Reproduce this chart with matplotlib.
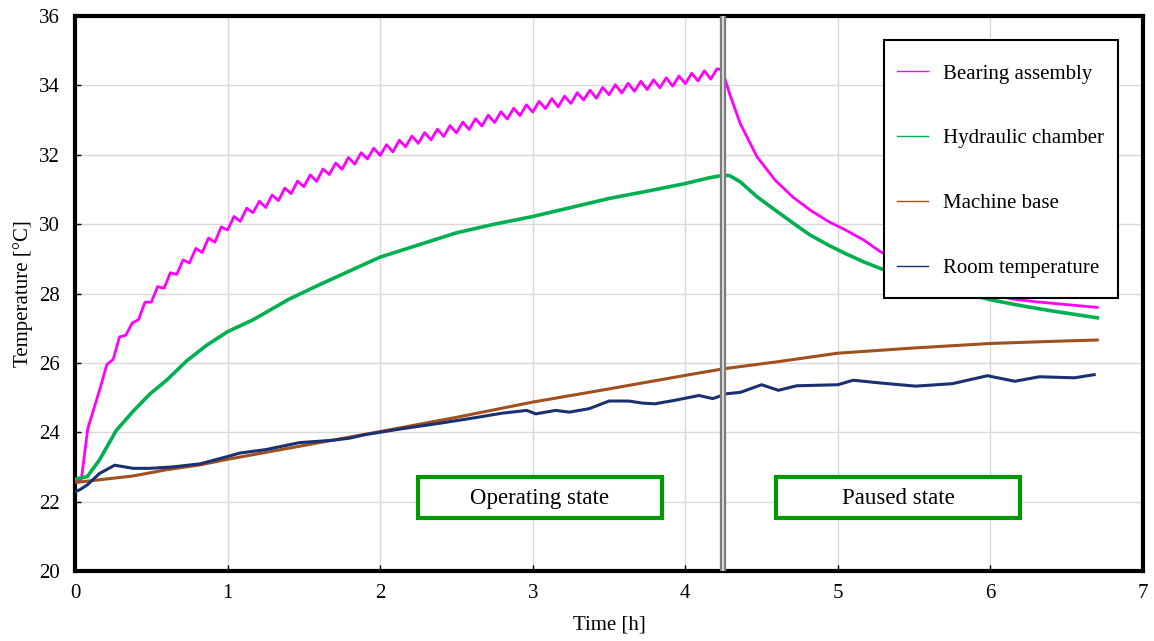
import numpy as np
import matplotlib
matplotlib.use("Agg")
import matplotlib.pyplot as plt
from matplotlib.patches import Rectangle

plt.rcParams['font.family'] = ['Liberation Serif', 'DejaVu Serif']

# bearing assembly while running: samples every 2.5 min (1/24 h), ripple included
bearing_run_v = [22.55, 22.65, 24.1, 24.7, 25.3, 25.95, 26.1, 26.75, 26.8, 27.15,
                 27.25, 27.75, 27.75, 28.2, 28.15, 28.6, 28.55, 28.97, 28.88, 29.3,
                 29.18, 29.6, 29.48, 29.92, 29.83, 30.22, 30.08, 30.46, 30.33, 30.66,
                 30.48, 30.84, 30.68, 31.04, 30.88, 31.24, 31.08, 31.42, 31.23, 31.59,
                 31.43, 31.76, 31.58, 31.92, 31.73, 32.06, 31.88, 32.19, 31.98, 32.29,
                 32.08, 32.42, 32.23, 32.54, 32.33, 32.64, 32.43, 32.74, 32.53, 32.84,
                 32.63, 32.94, 32.73, 33.04, 32.83, 33.14, 32.93, 33.24, 33.03, 33.34,
                 33.13, 33.44, 33.23, 33.54, 33.33, 33.62, 33.38, 33.69, 33.48, 33.79,
                 33.58, 33.86, 33.63, 33.94, 33.73, 34.02, 33.78, 34.06, 33.83, 34.12,
                 33.88, 34.16, 33.93, 34.22, 33.98, 34.27, 34.05, 34.35, 34.13, 34.42,
                 34.18, 34.48]
bearing_run_t = np.arange(len(bearing_run_v)) / 24.0

# bearing assembly after the machine stopped
bearing_stop_t = [4.24, 4.27, 4.29, 4.36, 4.47, 4.59, 4.705, 4.82, 4.94, 5.05,
                  5.17, 5.28, 5.5, 5.75, 6.0, 6.13, 6.3, 6.5, 6.7]
bearing_stop_v = [34.45, 34.05, 33.76, 32.9, 31.94, 31.26, 30.78, 30.4, 30.07, 29.83,
                  29.54, 29.2, 28.8, 28.35, 28.0, 27.85, 27.76, 27.68, 27.6]

hydraulic_t = [0.0, 0.08, 0.16, 0.27, 0.38, 0.49, 0.6, 0.73, 0.86, 1.0,
               1.17, 1.4, 1.6, 1.8, 2.0, 2.25, 2.5, 2.75, 3.0, 3.25,
               3.5, 3.75, 4.0, 4.15, 4.25, 4.29, 4.36, 4.47, 4.59, 4.71,
               4.82, 4.94, 5.05, 5.17, 5.28, 5.5, 5.75, 6.0, 6.2, 6.4,
               6.55, 6.7]
hydraulic_v = [22.65, 22.72, 23.2, 24.05, 24.6, 25.1, 25.5, 26.05, 26.5, 26.9,
               27.25, 27.83, 28.25, 28.65, 29.05, 29.4, 29.75, 30.0, 30.22, 30.48,
               30.74, 30.95, 31.17, 31.33, 31.41, 31.4, 31.22, 30.79, 30.4, 30.02,
               29.68, 29.39, 29.15, 28.91, 28.72, 28.4, 28.1, 27.82, 27.65, 27.5,
               27.4, 27.3]

base_t = [0.0, 0.16, 0.38, 0.6, 0.82, 1.0, 1.25, 1.5, 1.75, 2.0,
          2.5, 3.0, 3.5, 4.0, 4.25, 4.6, 5.0, 5.5, 6.0, 6.4, 6.7]
base_v = [22.55, 22.63, 22.74, 22.92, 23.06, 23.22, 23.42, 23.62, 23.82, 24.02,
          24.43, 24.87, 25.25, 25.64, 25.83, 26.03, 26.28, 26.43, 26.56, 26.62, 26.66]

room_t = [0.0, 0.03, 0.08, 0.16, 0.26, 0.38, 0.49, 0.64, 0.82, 1.0,
          1.08, 1.25, 1.47, 1.69, 1.8, 1.9, 2.0, 2.14, 2.36, 2.58,
          2.8, 2.96, 3.02, 3.15, 3.24, 3.37, 3.5, 3.63, 3.72, 3.8,
          3.93, 4.09, 4.18, 4.27, 4.36, 4.5, 4.61, 4.73, 5.0, 5.1,
          5.28, 5.51, 5.75, 5.98, 6.16, 6.32, 6.55, 6.68]
room_v = [22.29, 22.34, 22.48, 22.81, 23.05, 22.96, 22.96, 23.0, 23.09, 23.3,
          23.4, 23.5, 23.7, 23.77, 23.83, 23.93, 24.0, 24.1, 24.24, 24.39,
          24.55, 24.63, 24.53, 24.63, 24.58, 24.68, 24.9, 24.9, 24.84, 24.82,
          24.92, 25.06, 24.97, 25.11, 25.15, 25.37, 25.21, 25.34, 25.37, 25.5,
          25.42, 25.33, 25.4, 25.63, 25.47, 25.6, 25.57, 25.66]

labels = ['Bearing assembly', 'Hydraulic chamber', 'Machine base', 'Room temperature']
colors = ['#FF00FF', '#00B050', '#A0501E', '#1B3070']
stop_time = 4.25

fig = plt.figure(figsize=(11.54, 6.41), dpi=100)
ax = fig.add_axes([0.065, 0.1092, 0.9255, 0.8658])

bearing_t = np.concatenate([bearing_run_t, bearing_stop_t])
bearing_v = np.concatenate([bearing_run_v, bearing_stop_v])

ax.plot(bearing_t, bearing_v, color=colors[0], lw=2.0, zorder=3)
ax.plot(hydraulic_t, hydraulic_v, color=colors[1], lw=2.6, zorder=3)
ax.plot(base_t, base_v, color=colors[2], lw=2.2, zorder=3)
ax.plot(room_t, room_v, color=colors[3], lw=2.2, zorder=3)

# stop marker: double grey line
ax.axvline(stop_time, color='#7a7a7a', lw=4.5, zorder=4)
ax.axvline(stop_time, color='#d8d8d8', lw=1.5, zorder=5)

ax.set_xlim(0, 7)
ax.set_ylim(20, 36)
ax.set_xticks(range(0, 8))
ax.set_yticks(range(20, 37, 2))
ax.grid(True, color='#d9d9d9', lw=1)
ax.set_axisbelow(True)
ax.tick_params(direction='in', length=4, width=1, labelsize=15, pad=9)
ax.tick_params(axis='y', pad=11)
for sp in ax.spines.values():
    sp.set_linewidth(3)
    sp.set_color('black')

ax.set_xlabel('Time [h]', fontsize=15, labelpad=9)
ax.set_ylabel('Temperature [\u00b0C]', fontsize=15, labelpad=4)

# state boxes
for (x0, x1), txt in [((2.248, 3.847), 'Operating state'), ((4.594, 6.193), 'Paused state')]:
    ax.add_patch(Rectangle((x0, 21.52), x1 - x0, 1.2, fill=True, facecolor='white',
                           edgecolor='#009A00', lw=3, zorder=6))
    ax.text((x0 + x1) / 2, 22.1, txt, ha='center', va='center', fontsize=16.5, zorder=7)

# legend frame drawn separately so the padding can differ per side
ax.add_patch(Rectangle((0.7575, 0.4919), 0.2191, 0.4649, transform=ax.transAxes,
                       facecolor='white', edgecolor='black', lw=1.5, zorder=8))
handles = [plt.Line2D([], [], color=c, lw=1) for c in colors]
leg = ax.legend(handles, labels, loc='upper left', bbox_to_anchor=(0.7697, 0.9135),
                fontsize=15, frameon=False, borderpad=0, labelspacing=2.17,
                handlelength=1.5, handletextpad=0.7, borderaxespad=0)
leg.set_zorder(9)

fig.savefig('out.png', dpi=100)
